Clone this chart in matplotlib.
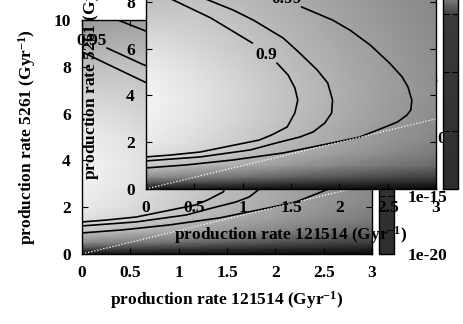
import matplotlib
matplotlib.use("Agg")
import matplotlib.pyplot as plt
import numpy as np
from matplotlib.colors import LogNorm, LinearSegmentedColormap
import matplotlib.cm as cm

plt.rcParams['font.family'] = ['Liberation Serif', 'DejaVu Serif']
plt.rcParams['font.weight'] = 'bold'
plt.rcParams['mathtext.fontset'] = 'custom'
plt.rcParams['mathtext.rm'] = 'Liberation Serif:bold'
plt.rcParams['mathtext.bf'] = 'Liberation Serif:bold'
plt.rcParams['mathtext.it'] = 'Liberation Serif:bold:italic'

# ---------------- data ----------------
grid_x = [0, 0.5, 1, 1.5, 2, 2.5, 3]
grid_y = [0, 0.25, 0.5, 1, 1.5, 2, 3, 4, 5, 6, 8, 10]
# relative brightness of the likelihood map (0 = dark, 255 = white)
brightness = [
    [20, 18, 16, 14, 12, 10, 8],
    [80, 70, 60, 52, 45, 40, 35],
    [140, 125, 110, 95, 82, 72, 62],
    [200, 185, 168, 150, 133, 118, 104],
    [225, 210, 192, 173, 155, 138, 122],
    [235, 220, 202, 183, 165, 148, 132],
    [242, 228, 210, 190, 172, 155, 140],
    [244, 230, 212, 193, 175, 158, 144],
    [238, 225, 208, 190, 173, 157, 143],
    [226, 215, 200, 184, 169, 155, 141],
    [192, 195, 186, 174, 160, 148, 136],
    [152, 160, 158, 152, 144, 135, 126],
]

# contour 0.9
inner_upper_x = [0.0, 0.13, 0.28, 0.67, 1.10]
inner_upper_y = [8.64, 8.38, 8.08, 7.31, 6.24]
inner_lower_x = [1.355, 1.47, 1.54, 1.57, 1.54, 1.46, 1.30, 1.17, 0.87, 0.56, 0.25, 0.0]
inner_lower_y = [5.38, 4.87, 4.32, 3.80, 3.25, 2.65, 2.31, 2.09, 1.84, 1.58, 1.45, 1.37]
# contour 0.95
middle_x = [0.26, 0.63, 0.90, 1.11, 1.42, 1.59, 1.77, 1.88, 1.93, 1.92, 1.85, 1.73, 1.59, 1.35, 1.08, 0.56, 0.0]
middle_y = [8.80, 8.10, 7.65, 7.22, 6.45, 5.81, 5.09, 4.53, 3.80, 3.25, 2.82, 2.44, 2.22, 1.97, 1.67, 1.37, 1.20]
# contour 0.99
outer_upper_x = [0.37, 0.66, 1.0, 1.30]
outer_upper_y = [10.0, 9.53, 8.92, 8.40]
outer_lower_x = [1.61, 1.93, 2.11, 2.32, 2.52, 2.65, 2.71, 2.75, 2.74, 2.70, 2.60, 2.45, 2.21, 1.93, 1.42, 0.90, 0.42, 0.0]
outer_lower_y = [7.78, 7.22, 6.79, 6.15, 5.38, 4.79, 4.36, 3.80, 3.38, 3.16, 2.86, 2.61, 2.22, 1.97, 1.54, 1.24, 1.03, 0.90]

contour_labels = ['0.9', '0.95', '0.99']
label_x = [1.24, 0.10, 1.45]
label_y = [5.73, 9.10, 8.12]

ratio_line_x = [0, 3]
ratio_line_y = [0, 3]

x_ticks = [0, 0.5, 1, 1.5, 2, 2.5, 3]
x_ticklabels = ['0', '0.5', '1', '1.5', '2', '2.5', '3']
y_ticks = [0, 2, 4, 6, 8, 10]
cb_ticks = [1e-20, 1e-15, 1e-10, 1e-5, 1]
cb_ticklabels = ['1e-20', '1e-15', '1e-10', '1e-5', '1']

xlabel = 'production rate 121514 (Gyr$^{\\mathregular{-1}}$)'
ylabel = 'production rate 5261 (Gyr$^{\\mathregular{-1}}$)'

# ---------------- figure ----------------
W, H = 463, 324
fig = plt.figure(figsize=(W / 100, H / 100), dpi=100)

FS = 12.5
cb_cmap = LinearSegmentedColormap.from_list(
    'cb', [(0, '#2e2e2e'), (0.74, '#3a3a3a'), (0.81, '#7a7a7a'), (1.0, '#ffffff')])

def make_layer(left, bottom):
    ax = fig.add_axes([left / W, (H - bottom) / H, 290 / W, 234 / H])
    X, Y = np.meshgrid(grid_x, grid_y)
    ax.pcolormesh(X, Y, np.array(brightness) / 255.0, cmap='gray', vmin=0, vmax=1,
                  shading='gouraud', rasterized=True)
    for xs, ys in [(inner_upper_x, inner_upper_y), (inner_lower_x, inner_lower_y),
                   (middle_x, middle_y), (outer_upper_x, outer_upper_y),
                   (outer_lower_x, outer_lower_y)]:
        ax.plot(xs, ys, color='black', lw=1.2)
    ax.plot(ratio_line_x, ratio_line_y, color='white', lw=0.9, ls=(0, (1, 1.5)))
    for t, lx, ly in zip(contour_labels, label_x, label_y):
        ax.text(lx, ly, t, ha='center', va='center', fontsize=FS, fontweight='bold')
    ax.set_xlim(0, 3)
    ax.set_ylim(0, 10)
    ax.set_xticks(x_ticks)
    ax.set_xticklabels(x_ticklabels)
    ax.set_yticks(y_ticks)
    ax.tick_params(direction='in', length=4, top=True, right=True, labelsize=FS, pad=8)
    ax.set_xlabel(xlabel, fontsize=FS, fontweight='bold', labelpad=6)
    ax.set_ylabel(ylabel, fontsize=FS, fontweight='bold', labelpad=11)
    for s in ax.spines.values():
        s.set_linewidth(1.0)
    cax = fig.add_axes([(left + 297) / W, (H - bottom) / H, 15 / W, 234 / H])
    sm = cm.ScalarMappable(norm=LogNorm(1e-20, 1), cmap=cb_cmap)
    cb = fig.colorbar(sm, cax=cax)
    cb.set_ticks(cb_ticks)
    cb.set_ticklabels(cb_ticklabels)
    cb.outline.set_linewidth(1.0)
    cax.minorticks_off()
    cax.tick_params(which='major', direction='in', length=4, left=True, right=True,
                    labelsize=FS, pad=10)
    return ax

ax1 = make_layer(82, 254)
ax2 = make_layer(146, 189)

fig.savefig('out.png', dpi=100)
